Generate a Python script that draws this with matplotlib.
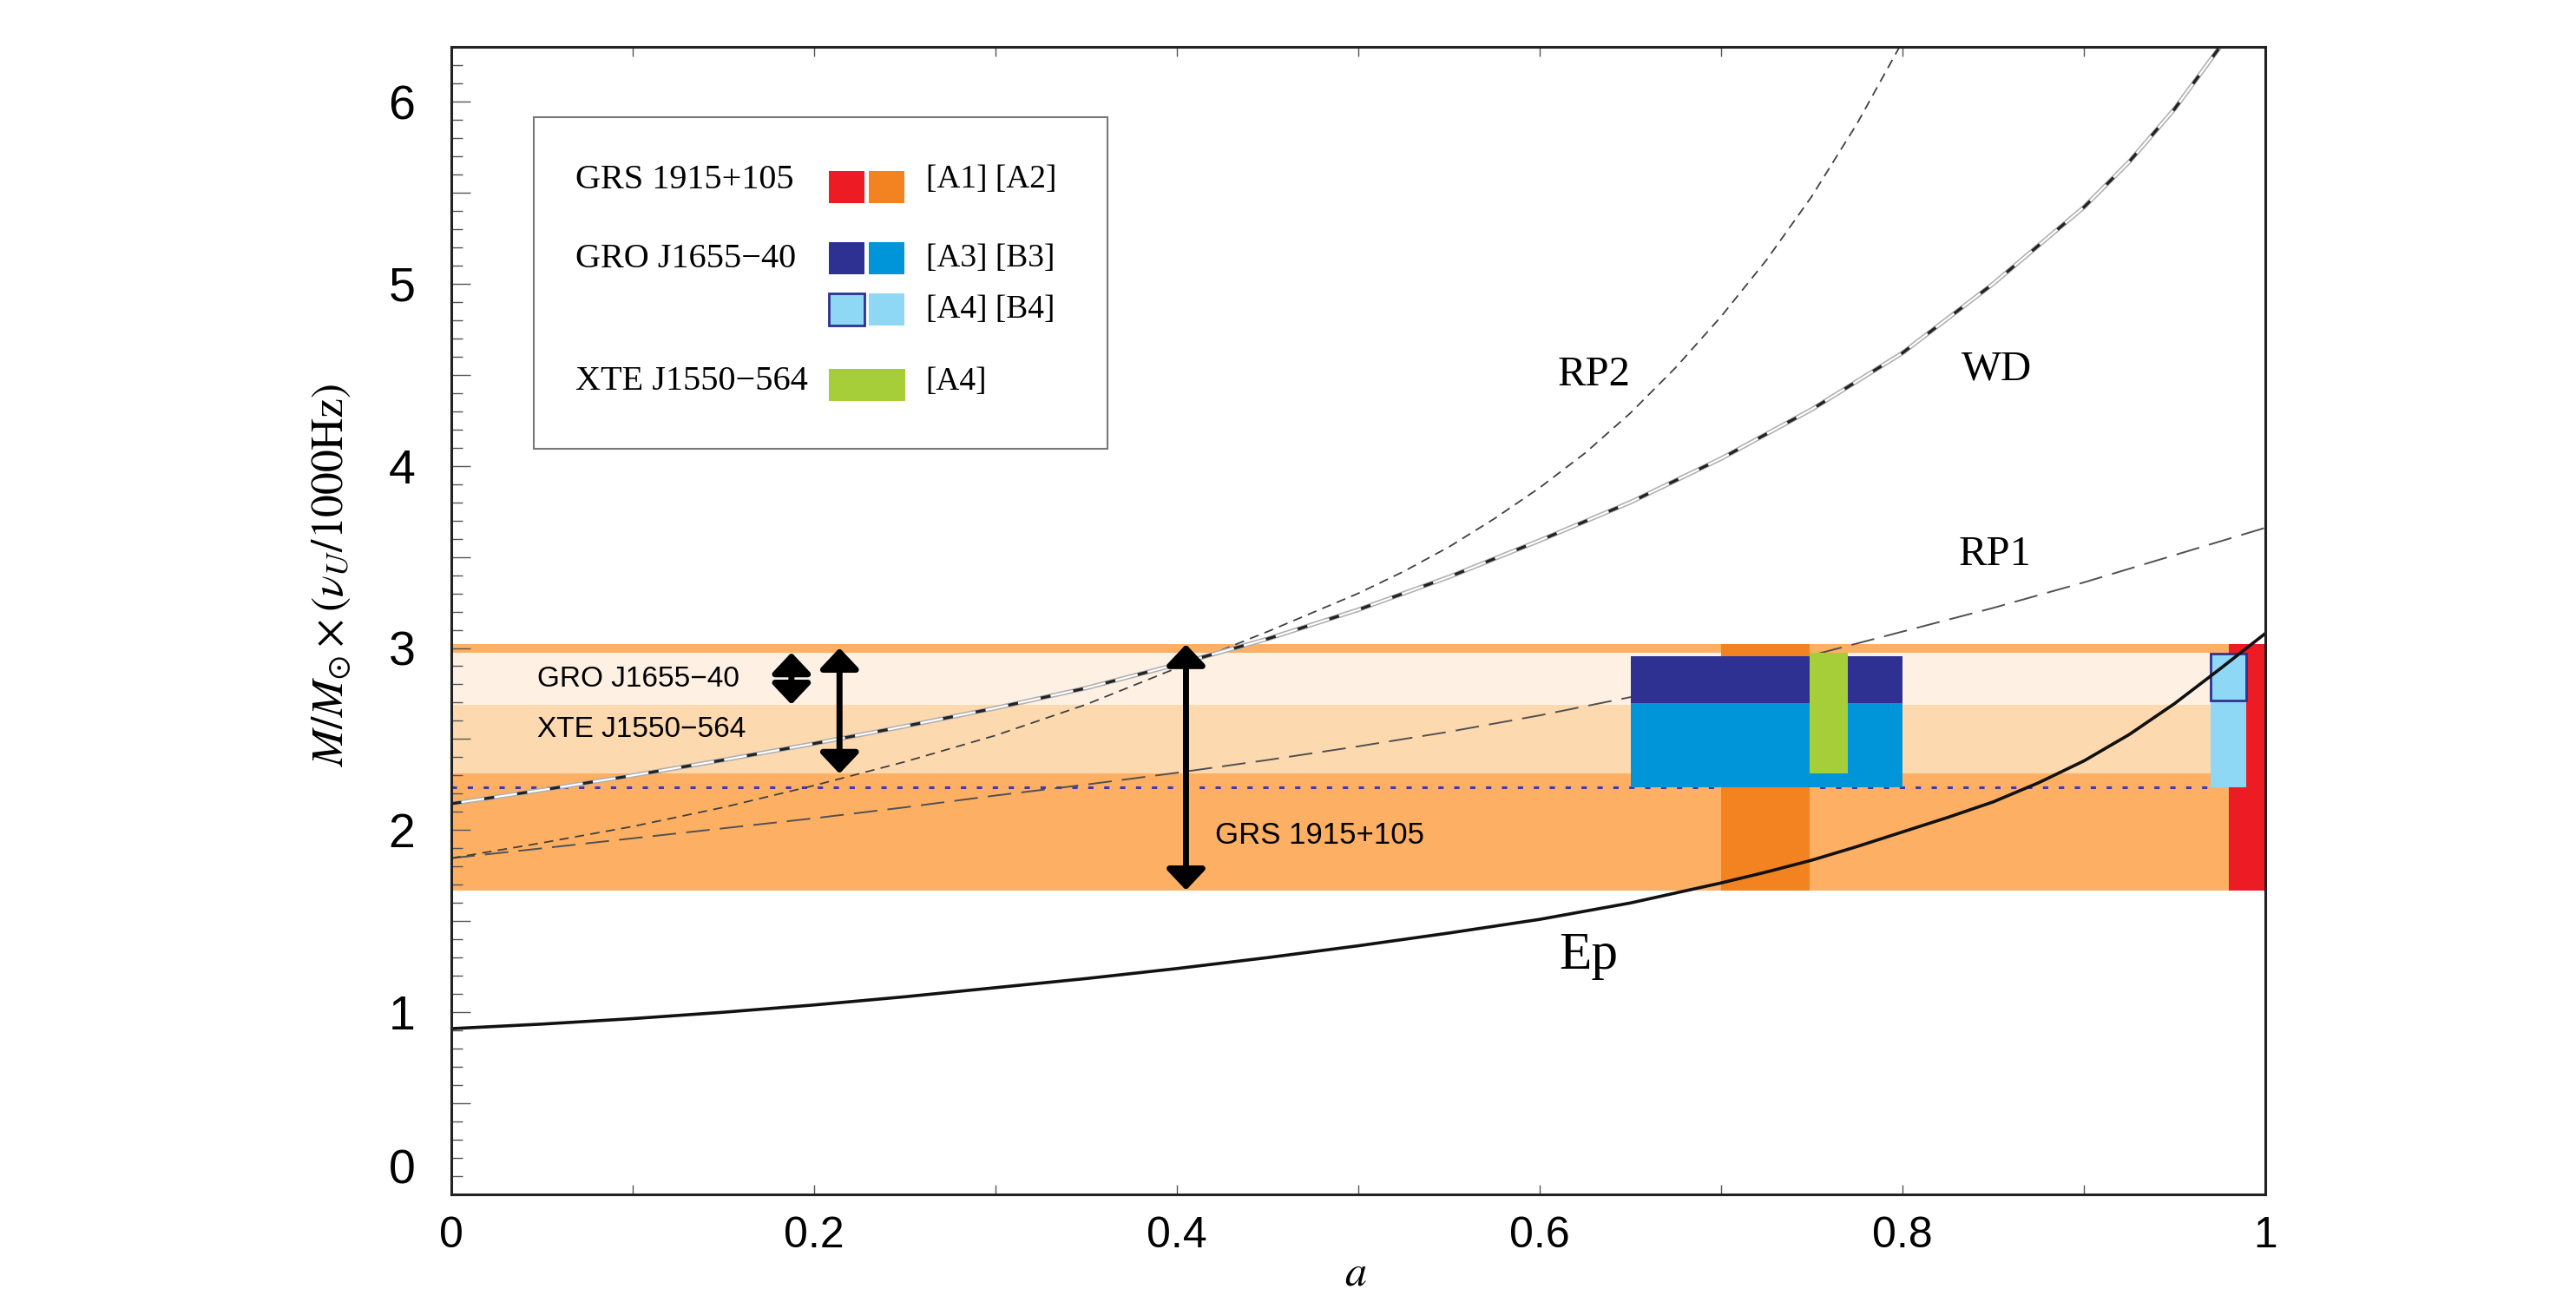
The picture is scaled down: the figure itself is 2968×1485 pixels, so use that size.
import numpy as np
import matplotlib
matplotlib.use('Agg')
import matplotlib.pyplot as plt
from matplotlib.patches import Rectangle
from matplotlib.ticker import MultipleLocator, FuncFormatter

plt.rcParams.update({
    'font.family': ['Liberation Sans', 'DejaVu Sans'],
    'mathtext.fontset': 'stix',
})
SERIF = ['Liberation Serif', 'DejaVu Serif']

# ── colours ────────────────────────────────────────────────────────────────
ORANGE_BAND = '#FDB064'
PEACH       = '#FDD9B0'
PALE        = '#FEF1E4'
DARK_ORANGE = '#F38220'
RED         = '#ED1C24'
NAVY        = '#2E3192'
MID_BLUE    = '#0095D9'
LIGHT_BLUE  = '#8ED8F6'
GREEN       = '#A6CE39'

# ── curves: M/Msun x (nu_U / 1000 Hz) versus spin a ───────────────────────
spin_ep = [0, 0.05, 0.1, 0.15, 0.2, 0.25, 0.3, 0.35, 0.4, 0.45, 0.5, 0.55,
           0.6, 0.65, 0.7, 0.725, 0.75, 0.775, 0.8, 0.825, 0.85, 0.875, 0.9,
           0.925, 0.95, 0.975, 1.0]
mass_ep = [0.91, 0.935, 0.965, 1.0, 1.04, 1.085, 1.135, 1.185, 1.24, 1.30,
           1.365, 1.435, 1.51, 1.60, 1.71, 1.77, 1.835, 1.91, 1.99, 2.07,
           2.155, 2.26, 2.38, 2.525, 2.695, 2.885, 3.08]

spin_rp1 = [0, 0.05, 0.1, 0.15, 0.2, 0.25, 0.3, 0.35, 0.4, 0.45, 0.5, 0.55,
            0.6, 0.65, 0.7, 0.75, 0.8, 0.85, 0.9, 0.95, 1.0]
mass_rp1 = [1.846, 1.90, 1.955, 2.01, 2.065, 2.125, 2.19, 2.25, 2.315, 2.385,
            2.46, 2.54, 2.63, 2.73, 2.84, 2.96, 3.09, 3.22, 3.36, 3.51, 3.66]

spin_rp2 = [0, 0.05, 0.1, 0.15, 0.2, 0.25, 0.3, 0.35, 0.4, 0.425, 0.45, 0.475,
            0.5, 0.525, 0.55, 0.575, 0.6, 0.625, 0.65, 0.675, 0.7, 0.725,
            0.75, 0.775, 0.8]
mass_rp2 = [1.846, 1.93, 2.02, 2.125, 2.245, 2.375, 2.52, 2.69, 2.89, 2.99,
            3.09, 3.195, 3.30, 3.42, 3.555, 3.71, 3.88, 4.07, 4.29, 4.54,
            4.82, 5.13, 5.48, 5.88, 6.33]

spin_wd = [0, 0.05, 0.1, 0.15, 0.2, 0.25, 0.3, 0.35, 0.4, 0.45, 0.5, 0.55,
           0.6, 0.65, 0.7, 0.75, 0.8, 0.85, 0.9, 0.925, 0.95, 0.975]
mass_wd = [2.145, 2.22, 2.30, 2.385, 2.475, 2.57, 2.67, 2.78, 2.91, 3.05,
           3.21, 3.39, 3.59, 3.80, 4.04, 4.31, 4.62, 5.00, 5.42, 5.67, 5.96, 6.3]

# ── observational ranges ───────────────────────────────────────────────────
grs_range = (1.67, 3.02)
xte_range = (2.31, 2.975)
gro_range = (2.69, 2.975)
gro_lower = 2.237

# spin boxes: (a_min, a_max, m_min, m_max)
box_a1 = (0.980, 1.000, 1.67, 3.02)
box_a2 = (0.700, 0.749, 1.67, 3.02)
box_a3 = (0.650, 0.800, 2.237, 2.955)
box_b3 = (0.650, 0.800, 2.237, 2.698)
box_b4 = (0.970, 0.9895, 2.237, 2.97)
box_a4 = (0.970, 0.9895, 2.714, 2.97)
box_xte = (0.749, 0.770, 2.313, 2.974)


def add_box(ax, box, color, z, edge=None):
    a0, a1, m0, m1 = box
    ax.add_patch(Rectangle((a0, m0), a1 - a0, m1 - m0, facecolor=color,
                           edgecolor=edge if edge else 'none',
                           lw=2 if edge else 0, zorder=z))


def double_arrow(ax, x, lo, hi):
    ax.annotate('', xy=(x, hi), xytext=(x, lo),
                arrowprops=dict(arrowstyle='<|-|>,head_length=0.9,head_width=0.85',
                                color='k', lw=5, mutation_scale=16,
                                shrinkA=0, shrinkB=0),
                zorder=8)


fig = plt.figure(figsize=(29.68, 14.85), dpi=100)
ax = fig.add_axes([0.1752, 0.0734, 0.7042, 0.8902])
ax.set_xlim(0, 1)
ax.set_ylim(0, 6.3)

# horizontal mass bands
ax.fill_between([0, 1], *grs_range, color=ORANGE_BAND, lw=0, zorder=1)
ax.fill_between([0, 1], *xte_range, color=PEACH, lw=0, zorder=1.1)
ax.fill_between([0, 1], *gro_range, color=PALE, lw=0, zorder=1.2)
ax.plot([0, 0.97], [gro_lower, gro_lower], color='#3A3DA8', lw=2.2,
        linestyle=(0, (2, 4)), zorder=2)

# model curves
ax.plot(spin_rp1, mass_rp1, color='#505050', lw=1.4, dashes=(14, 6), zorder=3)
ax.plot(spin_rp2, mass_rp2, color='#404040', lw=1.3, dashes=(6, 4), zorder=3)
ax.plot(spin_wd, mass_wd, color='#b0b0b0', lw=3.8, zorder=3)
ax.plot(spin_wd, mass_wd, color='white', lw=1.5, zorder=3.1)
ax.plot(spin_wd, mass_wd, color='#222222', lw=2.4, dashes=(3.5, 8), zorder=3.2)

# spin estimates
add_box(ax, box_a2, DARK_ORANGE, 4.0)
add_box(ax, box_a1, RED, 4.0)
add_box(ax, box_a3, NAVY, 4.1)
add_box(ax, box_b3, MID_BLUE, 4.2)
add_box(ax, box_xte, GREEN, 4.3)
add_box(ax, box_b4, LIGHT_BLUE, 4.2)
add_box(ax, box_a4, LIGHT_BLUE, 4.3, edge=NAVY)

ax.plot(spin_ep, mass_ep, color='#111111', lw=2.6, zorder=5)

# arrows + band labels
double_arrow(ax, 0.1875, gro_range[0], gro_range[1])
double_arrow(ax, 0.214, xte_range[0], 3.0)
double_arrow(ax, 0.405, grs_range[0], grs_range[1])
ax.text(0.0476, 2.83, 'GRO J1655−40', fontsize=24, va='center', zorder=8)
ax.text(0.0476, 2.55, 'XTE J1550−564', fontsize=24, va='center', zorder=8)
ax.text(0.421, 1.97, 'GRS 1915+105', fontsize=25, va='center', zorder=8)

for txt, x, y, fs in [('RP2', 0.630, 4.50, 35), ('WD', 0.852, 4.53, 35),
                      ('RP1', 0.851, 3.51, 35), ('Ep', 0.627, 1.31, 44)]:
    ax.text(x, y, txt, fontsize=fs, family=SERIF, ha='center', va='center',
            zorder=8)

# legend box
ax.add_patch(Rectangle((0.0453, 4.094), 0.3164, 1.821, facecolor='none',
                       edgecolor='#777777', lw=1.5, zorder=6))
name_kw = dict(fontsize=29, family=SERIF, va='center', zorder=7)
ref_kw = dict(fontsize=27, family=SERIF, va='center', zorder=7)
ax.text(0.0685, 5.571, 'GRS 1915+105', **name_kw)
ax.text(0.0685, 5.137, 'GRO J1655−40', **name_kw)
ax.text(0.0685, 4.461, 'XTE J1550−564', **name_kw)
ax.text(0.2615, 5.571, '[A1] [A2]', **ref_kw)
ax.text(0.2615, 5.137, '[A3] [B3]', **ref_kw)
ax.text(0.2615, 4.858, '[A4] [B4]', **ref_kw)
ax.text(0.2615, 4.461, '[A4]', **ref_kw)
sw_w, sw_h = 0.0198, 0.176
for x0, y0, c, e in [(0.2081, 5.443, RED, None), (0.2301, 5.443, DARK_ORANGE, None),
                     (0.2081, 5.054, NAVY, None), (0.2301, 5.054, MID_BLUE, None),
                     (0.2081, 4.770, LIGHT_BLUE, NAVY), (0.2301, 4.770, LIGHT_BLUE, None)]:
    ax.add_patch(Rectangle((x0, y0), sw_w, sw_h, facecolor=c,
                           edgecolor=e if e else 'none', lw=2 if e else 0, zorder=7))
ax.add_patch(Rectangle((0.2081, 4.358), 0.0421, sw_h, facecolor=GREEN, lw=0, zorder=7))

# axes styling
for side in ['left', 'bottom', 'top', 'right']:
    ax.spines[side].set_linewidth(2.2)
    ax.spines[side].set_color('#222222')
    ax.spines[side].set_zorder(9)

ax.set_xticks([0, 0.2, 0.4, 0.6, 0.8, 1.0])
ax.set_xticklabels(['0', '0.2', '0.4', '0.6', '0.8', '1'])
ax.set_xticks([0.1, 0.3, 0.5, 0.7, 0.9], minor=True)
ax.tick_params(axis='x', which='both', direction='in', length=8, width=1.0,
               color='#555555', top=True, bottom=True, labelsize=36, pad=18)

ax.yaxis.set_major_locator(MultipleLocator(0.5))
ax.yaxis.set_minor_locator(MultipleLocator(0.1))
ax.yaxis.set_major_formatter(FuncFormatter(
    lambda v, p: f'{int(round(v))}' if abs(v - round(v)) < 1e-6 and v > 0.01 else ''))
ax.tick_params(axis='y', which='major', direction='in', length=16, width=1.0,
               color='#555555', right=False, labelsize=40, pad=30)
ax.tick_params(axis='y', which='minor', direction='in', length=9, width=1.0,
               color='#555555', right=False)
ax.annotate('0', xy=(0, 0), xycoords=('axes fraction', 'data'),
            xytext=(-30, 19), textcoords='offset points', ha='right',
            va='center', fontsize=40)

ax.set_ylabel(r'$M/M_{\odot}\times(\nu_U/1000\mathrm{Hz})$', fontsize=37)
ax.yaxis.set_label_coords(-0.066, 0.54)
ax.yaxis.label.set_va('center')
ax.set_xlabel(r'$a$', fontsize=36)
ax.xaxis.set_label_coords(0.4985, -0.069)
ax.xaxis.label.set_va('center')

fig.savefig('out.png', dpi=100)
